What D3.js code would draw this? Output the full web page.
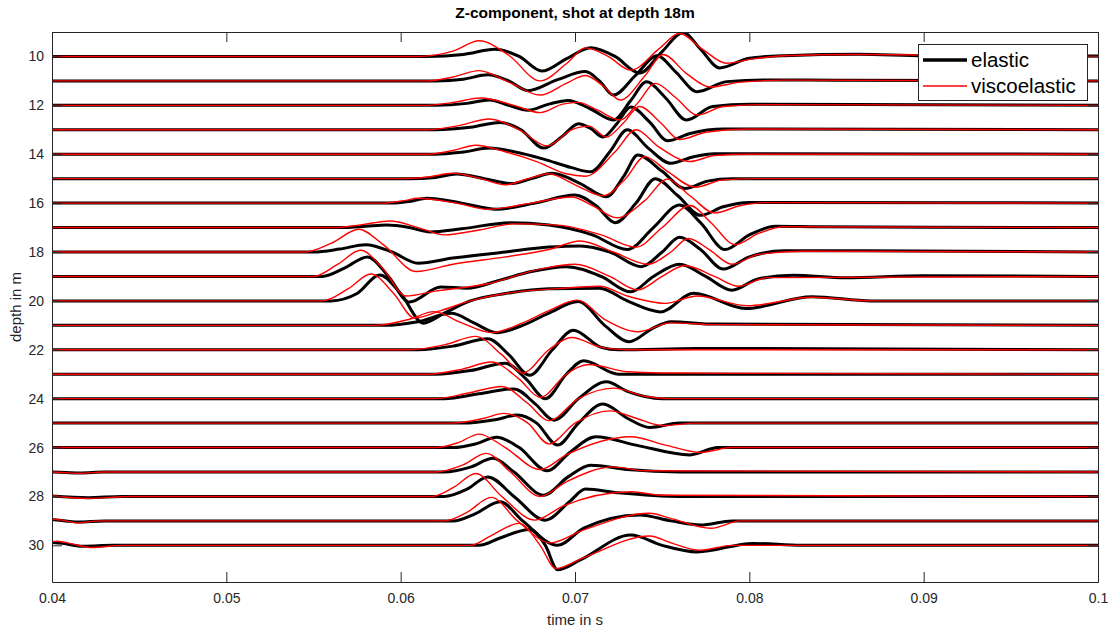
<!DOCTYPE html>
<html><head><meta charset="utf-8">
<script src="https://cdn.jsdelivr.net/npm/d3@7"></script>
<style>
body{margin:0;background:#fff}
text{font-family:"Liberation Sans",Arial,Helvetica,sans-serif}
</style></head>
<body><svg id="chart" width="1111" height="630"></svg>
<script>
// ---------------- data ----------------
const depths = [10,11,12,13,14,15,16,17,18,19,20,21,22,23,24,25,26,27,28,29,30];
const timeTicks = [0.04,0.05,0.06,0.07,0.08,0.09,0.1];
const timeTickLabels = ["0.04","0.05","0.06","0.07","0.08","0.09","0.1"];
const depthTicks = [10,12,14,16,18,20,22,24,26,28,30];
const seriesNames = ["elastic","viscoelastic"];
const titleText = "Z-component, shot at depth 18m";
// picks per trace: [time in ms, amplitude in m (positive = up)]
const elastic = [
 [[40,0],[61.5,0],[63.6,0.08],[65.4,0.29],[66.8,0.0],[68.1,-0.6],[69.5,-0.1],[70.9,0.36],[72.3,0.0],[73.7,-0.68],[75.0,0.2],[76.2,0.98],[77.2,0.3],[78.3,-0.47],[80.0,-0.07],[82,0.03],[86.3,0.09],[90,0.03],[100,0.02]],
 [[40,0],[62,0],[63.6,0.07],[65.0,0.25],[66.2,0.0],[67.3,-0.4],[69,0.05],[70.6,0.38],[71.4,0.0],[72.2,-0.58],[73.5,0.25],[74.7,1.03],[75.8,0.35],[77.0,-0.44],[78.7,-0.03],[81,0.04],[85,0.03],[100,0]],
 [[40,0],[62,0],[63.8,0.08],[65.1,0.22],[66.2,0.0],[67.3,-0.2],[68.5,0.05],[69.6,0.2],[70.9,-0.15],[72.2,-0.6],[73.2,0.2],[74.1,0.96],[75.2,0.3],[76.4,-0.6],[77.9,-0.05],[80,0.04],[100,0]],
 [[40,0],[62,0],[64,0.1],[65.7,0.3],[66.9,0.0],[68.2,-0.75],[69.3,-0.25],[70.2,0.25],[70.9,0.05],[71.6,-0.3],[72.4,0.25],[73.2,0.93],[74.3,0.3],[75.3,-0.45],[76.6,-0.15],[78.5,0.03],[100,0]],
 [[40,0],[62,0],[63.5,0.08],[65.1,0.25],[66.5,0.1],[68.2,-0.2],[69.8,-0.55],[70.9,-0.72],[72.0,0.1],[73.0,1.0],[74.2,0.25],[75.5,-0.37],[76.8,-0.1],[78,0.02],[100,0]],
 [[40,0],[60.5,0],[62,0.05],[63.2,0.19],[64.8,0.0],[66.4,-0.2],[67.5,0.0],[68.7,0.22],[70.3,-0.2],[71.8,-0.74],[72.8,0.1],[73.6,0.97],[75.0,0.3],[76.3,-0.4],[77.6,-0.1],[79,0.0],[100,0]],
 [[40,0],[59.5,0],[60.5,0.07],[61.5,0.2],[63.5,0.0],[65.5,-0.25],[67.7,0.0],[70.0,0.33],[71.2,-0.1],[72.3,-0.8],[73.5,0.0],[74.6,1.0],[75.9,0.3],[77.2,-0.5],[78.5,-0.15],[80,0.03],[100,0]],
 [[40,0],[56.8,0],[58,0.05],[59.2,0.1],[60.5,0],[61.7,-0.18],[63.5,-0.05],[66.3,0.2],[68.5,0.1],[71.0,-0.3],[73.0,-0.9],[74.5,0.0],[76.0,0.92],[77.2,0.2],[78.6,-0.9],[80.0,-0.3],[81.5,0.05],[84,0.03],[100,0]],
 [[40,0],[55,0],[56.5,0.12],[58.0,0.3],[59.5,0.0],[61.0,-0.46],[63,-0.25],[66,0.0],[68.5,0.2],[70.3,0.25],[72,0.0],[73.8,-0.6],[75,0.0],[76.0,0.6],[77.2,0.1],[78.5,-0.7],[80,-0.2],[82,0.05],[85,0.05],[100,0]],
 [[40,0],[55.5,0],[56.8,0.35],[58.1,0.8],[59.3,0.0],[60.5,-1.05],[62.3,-0.43],[63.8,-0.48],[65.7,-0.15],[67.5,0.2],[69.5,0.4],[71.5,0.0],[73.2,-0.63],[74.5,0.0],[76.0,0.5],[77.5,0.0],[79.0,-0.56],[80.5,-0.1],[82.5,0.05],[85.5,-0.05],[90,0.03],[100,0]],
 [[40,0],[56,0],[57.5,0.3],[58.8,1.06],[60.0,0.3],[61.3,-0.91],[62.5,-0.5],[64,0.0],[66,0.3],[68.5,0.5],[71.4,0.52],[73,0.0],[74.9,-0.45],[76.8,0.31],[79.8,-0.31],[83.6,0.17],[87,0.0],[100,0]],
 [[40,0],[59,0],[61,0.15],[62.9,0.49],[64.2,0.1],[65.5,-0.3],[67,0.0],[68.5,0.5],[70.2,0.97],[71.7,0.0],[73.1,-0.67],[74.5,-0.1],[75.5,0.15],[78,0.05],[100,0]],
 [[40,0],[61,0],[63,0.15],[65,0.45],[66.2,-0.2],[67.4,-1.04],[68.7,0.0],[69.9,0.8],[71.5,0.1],[72.5,0.0],[77,0.05],[100,0]],
 [[40,0],[62,0],[64,0.15],[66,0.45],[67.2,-0.2],[68.3,-1.0],[69.5,0.0],[70.5,0.55],[72.5,0.0],[100,0]],
 [[40,0],[62.5,0],[64.5,0.2],[66.5,0.4],[67.7,-0.2],[68.8,-0.88],[70.2,0.0],[71.8,0.69],[73,0.3],[75,0.0],[100,0]],
 [[40,0],[63.5,0],[65.5,0.15],[66.7,0.33],[67.8,0.0],[69.0,-0.9],[70.2,0.0],[71.6,0.78],[73.0,0.2],[74.3,-0.18],[76,0.0],[100,0]],
 [[40,0],[63,0],[64.3,0.15],[65.5,0.42],[66.8,0.0],[68.4,-0.95],[69.7,-0.2],[71.2,0.44],[73.5,0.1],[76.6,-0.3],[78.2,0.0],[100,0]],
 [[40,0],[40.8,-0.02],[41.6,-0.04],[43,0],[62.5,0],[64,0.2],[65.3,0.56],[66.5,0.0],[68.2,-0.95],[69.6,-0.2],[70.9,0.28],[73,0.1],[76,0.0],[100,0]],
 [[40,0.02],[42.1,-0.05],[44,0],[62.5,0],[63.8,0.3],[65.0,0.8],[66.5,0.0],[68.3,-0.97],[69.7,-0.2],[70.6,0.3],[72.5,0.15],[76,0.0],[100,0]],
 [[40,0.06],[40.8,0.0],[41.5,-0.05],[43,0],[63,0],[64.3,0.3],[65.7,0.78],[67,0.0],[69.0,-1.0],[70.5,-0.3],[73.7,0.24],[75.5,0.0],[77.2,-0.17],[79,0.0],[100,0]],
 [[40,0.12],[40.6,0.08],[41.8,-0.04],[43.5,0],[64.5,0],[65.7,0.3],[67.4,0.65],[68.3,0.0],[69.0,-1.0],[70.3,-0.6],[73.2,0.42],[75,0.0],[77.0,-0.27],[80.2,0.08],[83,0.0],[100,0]]
];
const visco = [
 [[40,0],[61,0],[63,0.22],[64.5,0.64],[66.2,0.05],[68.0,-1.0],[69.5,-0.3],[70.6,0.35],[71.9,0.0],[73.2,-0.56],[74.8,0.3],[76.0,0.94],[77.3,0.3],[78.7,-0.28],[80.2,-0.1],[82,0.03],[86,0.08],[100,0]],
 [[40,0],[61.5,0],[63,0.16],[64.5,0.42],[66.2,-0.05],[68.0,-0.58],[69.5,-0.1],[70.6,0.22],[71.6,-0.2],[72.6,-0.78],[74.0,0.2],[75.05,1.08],[76.4,0.3],[77.75,-0.25],[79.5,-0.05],[82,0.03],[100,0]],
 [[40,0],[61.5,0],[63,0.12],[64.6,0.3],[66.5,0.0],[68.0,-0.3],[69.3,0.05],[70.2,0.12],[71.3,-0.2],[72.6,-0.6],[73.6,0.1],[74.6,0.9],[75.8,0.3],[77.0,-0.4],[78.5,-0.05],[81,0.03],[100,0]],
 [[40,0],[61.5,0],[63.2,0.15],[65.1,0.44],[66.8,0.0],[68.4,-0.66],[69.8,0.0],[70.8,0.15],[71.8,-0.3],[72.8,0.3],[73.7,0.95],[74.9,0.3],[76.0,-0.4],[77.5,-0.1],[80,0.03],[100,0]],
 [[40,0],[61.5,0],[63,0.15],[64.3,0.37],[66,0.1],[67.8,-0.3],[69.5,-0.8],[70.6,-0.9],[72.3,0.1],[73.5,1.0],[74.8,0.3],[76.6,-0.3],[78,-0.05],[80,0],[100,0]],
 [[40,0],[60,0],[61.6,0.07],[63.0,0.22],[64.6,0.0],[66.0,-0.25],[67.3,0.0],[68.5,0.2],[70.0,-0.25],[71.6,-0.7],[72.9,0.0],[74.0,0.9],[75.3,0.3],[76.9,-0.35],[78.5,-0.05],[80.5,0],[100,0]],
 [[40,0],[59,0],[60.2,0.1],[61.0,0.2],[63.2,0.0],[65.0,-0.25],[67.5,0.0],[69.8,0.25],[71.0,-0.1],[72.4,-0.6],[74.0,0.1],[75.3,0.98],[76.6,0.3],[78.0,-0.4],[79.5,-0.1],[81,0.02],[100,0]],
 [[40,0],[56.3,0],[57.8,0.12],[59.4,0.27],[61,0.0],[62.5,-0.3],[64.5,-0.1],[66.5,0.15],[69,0.1],[71.5,-0.3],[73.5,-0.8],[75.0,0.0],[76.6,0.9],[77.8,0.2],[79.2,-0.7],[80.5,-0.25],[82,0.03],[100,0]],
 [[40,0],[54.5,0],[56,0.35],[57.6,0.93],[59,0.3],[60.9,-0.8],[63,-0.5],[66,-0.2],[68.5,0.1],[70.3,0.45],[72.2,0.0],[74.2,-0.5],[75.5,0.0],[76.5,0.55],[77.7,0.1],[79.0,-0.5],[80.5,-0.1],[83,0.03],[100,0]],
 [[40,0],[55,0],[56.4,0.5],[57.7,1.07],[59,0.3],[60.3,-0.8],[62,-0.6],[65,-0.3],[68,0.3],[70,0.5],[72,0.0],[73.6,-0.55],[75.0,0.0],[76.3,0.45],[78,0.0],[79.4,-0.4],[81,-0.05],[100,0]],
 [[40,0],[55.5,0],[57,0.5],[58.3,1.1],[59.6,0.3],[60.8,-0.7],[62.3,-0.4],[64,0.0],[66,0.3],[69,0.5],[71.4,0.6],[73,0.2],[75.2,-0.1],[77,0.2],[79.9,-0.2],[83.6,0.15],[87,0.0],[100,0]],
 [[40,0],[58.5,0],[60.5,0.25],[61.9,0.56],[63.5,0.1],[65.2,-0.3],[67,0.1],[68.5,0.6],[70.1,1.03],[71.8,0.2],[73.6,-0.26],[75.5,0.1],[78,0.03],[100,0]],
 [[40,0],[60.5,0],[62.5,0.2],[64.3,0.55],[65.8,-0.2],[67.0,-0.95],[68.5,0.0],[69.8,0.5],[71.5,0.1],[73,0.0],[100,0]],
 [[40,0],[61.5,0],[63.5,0.2],[65.2,0.5],[66.8,-0.2],[68.0,-0.95],[69.5,0.0],[70.8,0.4],[73,0.1],[75,0.05],[100,0]],
 [[40,0],[62,0],[64,0.25],[65.8,0.5],[67.3,-0.2],[68.5,-0.9],[70.2,0.0],[72.2,0.43],[74,0.1],[75.5,0.0],[100,0]],
 [[40,0],[63,0],[64.8,0.2],[65.9,0.4],[67.3,0.0],[68.5,-0.85],[70.0,0.0],[72.0,0.5],[73.5,0.2],[75,-0.1],[77,0.0],[100,0]],
 [[40,0],[62,0],[63.3,0.2],[64.5,0.55],[66,0.0],[68.0,-0.9],[69.5,-0.3],[73.2,0.44],[75.2,0.1],[77.2,-0.2],[79,0.0],[100,0]],
 [[40,0],[40.8,-0.03],[41.6,-0.05],[43,0],[62,0],[63.6,0.3],[64.9,0.76],[66.3,0.0],[68.0,-1.0],[69.5,-0.4],[72.2,0.21],[74,0.05],[100,0]],
 [[40,0.03],[42.1,-0.08],[44.5,0],[61.8,0],[63.1,0.4],[64.3,0.94],[65.8,0.0],[67.7,-0.97],[69.3,-0.4],[73.2,0.19],[75,0.05],[100,0]],
 [[40,0.08],[40.6,0.03],[41.4,-0.08],[42.8,0],[62.5,0],[63.8,0.35],[65.2,0.96],[66.7,0.0],[68.6,-0.9],[70.4,-0.4],[74.3,0.31],[75.5,0.1],[77.8,-0.3],[79.5,0.0],[100,0]],
 [[40,0.15],[40.3,0.17],[41.2,0.05],[42.3,-0.09],[44,0],[64,0],[65.2,0.4],[66.8,0.9],[68.0,0.0],[68.9,-0.95],[70.5,-0.5],[74.3,0.38],[75.5,0.1],[77.2,-0.2],[79,0.0],[100,0]]
];

// ---------------- layout ----------------
const W = 1111, H = 630;
const M = {left:52, right:1098, top:32, bottom:582};
const svg = d3.select("#chart");
const x = d3.scaleLinear().domain([0.04,0.1]).range([M.left, M.right]);
const y = d3.scaleLinear().domain([9,31.5]).range([M.top, M.bottom]);
const axisColor = "#262626";

svg.append("rect").attr("x",0).attr("y",0).attr("width",W).attr("height",H).attr("fill","#fff");

const clipId = "plotclip";
svg.append("clipPath").attr("id",clipId).append("rect")
  .attr("x",M.left).attr("y",M.top).attr("width",M.right-M.left).attr("height",M.bottom-M.top);

const line = d3.line()
  .x(p => x(p[0]/1000))
  .y(p => p[2])
  .curve(d3.curveMonotoneX);

const plot = svg.append("g").attr("clip-path",`url(#${clipId})`);
function tracePath(picks, depth){
  return line(picks.map(p => [p[0], p[1], y(depth - p[1])]));
}
plot.selectAll("path.el").data(depths).join("path").attr("class","el")
  .attr("d",(d,i)=>tracePath(elastic[i], d))
  .attr("fill","none").attr("stroke","#000").attr("stroke-width",3).attr("stroke-linejoin","round");
plot.selectAll("path.ve").data(depths).join("path").attr("class","ve")
  .attr("d",(d,i)=>tracePath(visco[i], d))
  .attr("fill","none").attr("stroke","#ff0000").attr("stroke-width",1.4).attr("stroke-linejoin","round");

// axes
const fmtX = (d,i) => timeTickLabels[timeTicks.indexOf(d)];
const gx = svg.append("g").attr("transform",`translate(0,${M.bottom})`)
  .call(d3.axisBottom(x).tickValues(timeTicks).tickFormat(fmtX).tickSize(-10).tickSizeOuter(0).tickPadding(11));
const gxt = svg.append("g").attr("transform",`translate(0,${M.top})`)
  .call(d3.axisTop(x).tickValues(timeTicks).tickFormat("").tickSize(-10).tickSizeOuter(0));
const gy = svg.append("g").attr("transform",`translate(${M.left},0)`)
  .call(d3.axisLeft(y).tickValues(depthTicks).tickFormat(d3.format("d")).tickSize(-10).tickSizeOuter(0).tickPadding(8));
const gyr = svg.append("g").attr("transform",`translate(${M.right},0)`)
  .call(d3.axisRight(y).tickValues(depthTicks).tickFormat("").tickSize(-10).tickSizeOuter(0));
[gx,gxt,gy,gyr].forEach(g=>{
  g.selectAll("path.domain").attr("stroke",axisColor).attr("stroke-width",1);
  g.selectAll(".tick line").attr("stroke",axisColor).attr("stroke-width",1);
  g.selectAll(".tick text").attr("fill",axisColor).style("font-size","14px").style("font-family","Liberation Sans, Arial, sans-serif");
});

// titles
svg.append("text").attr("x",(M.left+M.right)/2).attr("y",18).attr("text-anchor","middle")
  .style("font-size","15.5px").style("font-weight","bold").attr("fill","#000").text(titleText);
svg.append("text").attr("x",(M.left+M.right)/2).attr("y",625).attr("text-anchor","middle")
  .style("font-size","15px").attr("fill",axisColor).text("time in s");
svg.append("text").attr("transform",`translate(21,${(M.top+M.bottom)/2}) rotate(-90)`).attr("text-anchor","middle")
  .style("font-size","15px").attr("fill",axisColor).text("depth in m");

// legend
const lg = svg.append("g");
lg.append("rect").attr("x",918.5).attr("y",44.5).attr("width",169).attr("height",56)
  .attr("fill","#fff").attr("stroke",axisColor).attr("stroke-width",1);
const legendItems = [{name:seriesNames[0],color:"#000",w:3.5,yy:60,ty:67},{name:seriesNames[1],color:"#ff0000",w:1.4,yy:86,ty:92.5}];
legendItems.forEach(it=>{
  lg.append("line").attr("x1",923).attr("x2",967).attr("y1",it.yy).attr("y2",it.yy)
    .attr("stroke",it.color).attr("stroke-width",it.w);
  lg.append("text").attr("x",971).attr("y",it.ty).style("font-size","20.5px").attr("fill","#000").text(it.name);
});
</script></body></html>
